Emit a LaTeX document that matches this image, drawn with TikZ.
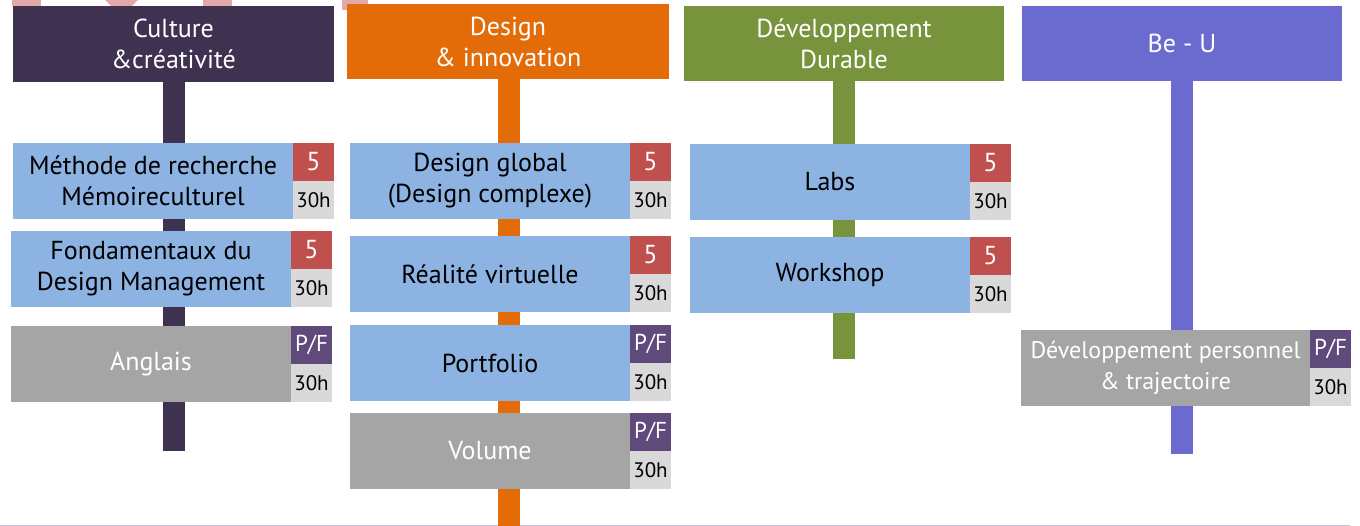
\documentclass[tikz,border=0pt]{standalone}
\usepackage{fontspec}
\setmainfont{PT Sans}
\usepackage{tikz}
\usetikzlibrary{positioning}
\definecolor{cultc}{HTML}{3F3150}
\definecolor{desic}{HTML}{E36C09}
\definecolor{durac}{HTML}{77933C}
\definecolor{beuc}{HTML}{6B6BCF}
\definecolor{boxblue}{HTML}{8DB3E2}
\definecolor{boxgray}{HTML}{A5A5A5}
\definecolor{credred}{HTML}{C0504D}
\definecolor{pfpurple}{HTML}{604A7B}
\definecolor{hourgray}{HTML}{D9D9D9}
\definecolor{pinkmark}{HTML}{E2A9AA}
\definecolor{baseln}{HTML}{C9C1E3}
\tikzstyle{header} = [rectangle, inner sep=0, outer sep=0, text=white, align=center, minimum width=321pt, minimum height=76pt, anchor=north west, font=\fontsize{26}{31}\selectfont]
\tikzstyle{course} = [rectangle, fill=boxblue, inner sep=0, outer sep=0, align=center, minimum width=280pt, minimum height=76pt, anchor=north west, font=\fontsize{26}{31}\selectfont]
\tikzstyle{optional} = [course, fill=boxgray, text=white]
\tikzstyle{credit} = [rectangle, fill=credred, text=white, inner sep=0, outer sep=0, minimum width=41pt, minimum height=38pt, font=\fontsize{26}{26}\selectfont]
\tikzstyle{passfail} = [credit, fill=pfpurple, font=\fontsize{23}{23}\selectfont]
\tikzstyle{hours} = [credit, fill=hourgray, text=black, font=\fontsize{21}{21}\selectfont]
\tikzstyle{bar} = [line width=22pt]
\tikzset{x=1pt, y=-1pt, node distance=0pt}

\begin{document}
\begin{tikzpicture}
\useasboundingbox (0,0) rectangle (1360,526);

% cut-off marks at the top
\fill[pinkmark] (12,0) rectangle (41,6);
\fill[pinkmark] (105,0) -- (138,0) -- (132,6) -- (111,6) -- cycle;
\fill[pinkmark] (203,0) rectangle (232,6);
\fill[pinkmark] (342,0) rectangle (368,10);
\draw[baseln, line width=1pt] (0,525) -- (1350,525);

% headers
\node[header, fill=cultc] (cult) at (13,6) {Culture\\\&créativité};
\node[header, fill=desic, minimum width=322pt, minimum height=75pt] (desi) at (347,4) {Design\\\& innovation};
\node[header, fill=durac, minimum width=320pt, minimum height=75pt] (dura) at (684,6) {Développement\\Durable};
\node[header, fill=beuc, minimum width=320pt, minimum height=75pt] (beu) at (1022,6) {Be - U};

% bars
\coordinate (cultend) at (173.5,451);
\coordinate (desiend) at (509,526);
\coordinate (duraend) at (844,359);
\coordinate (beuend) at (1182,454);
\draw[bar, cultc] (cult.south) -- (cultend);
\draw[bar, desic] (desi.south -| desiend) -- (desiend);
\draw[bar, durac] (dura.south) -- (duraend);
\draw[bar, beuc] (beu.south) -- (beuend);

% Culture & creativite
\node[course] (c1) at (13,143) {Méthode de recherche\\Mémoireculturel};
\node[credit, anchor=north west] (c1c) at (c1.north east) {5};
\node[hours, below=of c1c] (c1h) {30h};
\node[course] (c2) at (11,231) {Fondamentaux du\\Design Management};
\node[credit, anchor=north west] (c2c) at (c2.north east) {5};
\node[hours, below=of c2c] (c2h) {30h};
\node[optional] (c3) at (11,326) {Anglais};
\node[passfail, anchor=north west] (c3c) at (c3.north east) {P/F};
\node[hours, below=of c3c] (c3h) {30h};

% Design & innovation
\node[course] (d1) at (350,143) {Design global\\(Design complexe)};
\node[credit, anchor=north west] (d1c) at (d1.north east) {5};
\node[hours, below=of d1c] (d1h) {30h};
\node[course] (d2) at (350,236) {Réalité virtuelle};
\node[credit, anchor=north west] (d2c) at (d2.north east) {5};
\node[hours, below=of d2c] (d2h) {30h};
\node[course] (d3) at (350,325) {Portfolio};
\node[passfail, anchor=north west] (d3c) at (d3.north east) {P/F};
\node[hours, below=of d3c] (d3h) {30h};
\node[optional] (d4) at (350,413) {Volume};
\node[passfail, anchor=north west] (d4c) at (d4.north east) {P/F};
\node[hours, below=of d4c] (d4h) {30h};

% Developpement durable
\node[course] (u1) at (690,144) {Labs};
\node[credit, anchor=north west] (u1c) at (u1.north east) {5};
\node[hours, below=of u1c] (u1h) {30h};
\node[course] (u2) at (690,237) {Workshop};
\node[credit, anchor=north west] (u2c) at (u2.north east) {5};
\node[hours, below=of u2c] (u2h) {30h};

% Be - U
\node[optional, minimum width=289pt, font=\fontsize{24}{31}\selectfont] (b1) at (1021,330) {Développement personnel\\\& trajectoire};
\node[passfail, anchor=north west] (b1c) at (b1.north east) {P/F};
\node[hours, below=of b1c] (b1h) {30h};
\end{tikzpicture}
\end{document}
